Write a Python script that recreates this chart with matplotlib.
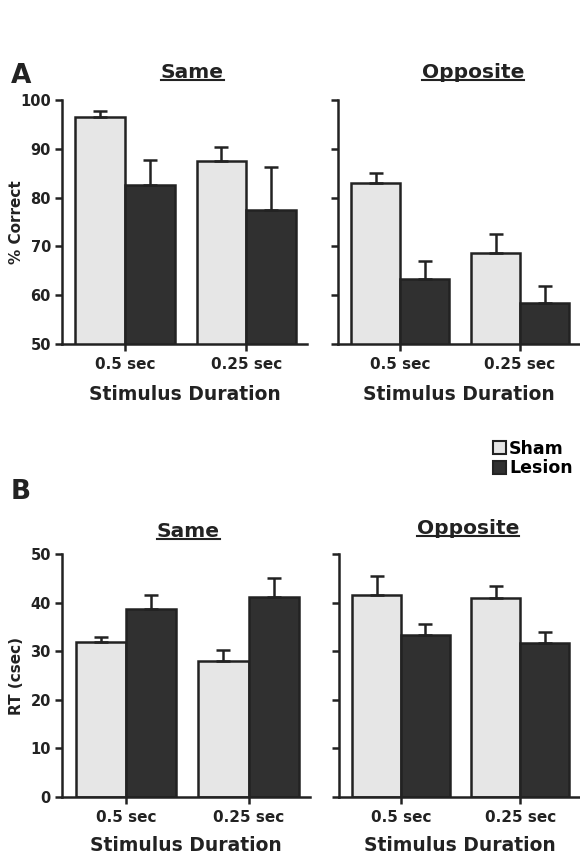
import matplotlib
matplotlib.use("Agg")
import matplotlib.pyplot as plt
from matplotlib.patches import Patch
from matplotlib.lines import Line2D

plt.rcParams['font.family'] = ['DejaVu Sans']
plt.rcParams['font.weight'] = 'bold'

# data
durations = ["0.5 sec", "0.25 sec"]

acc_same_sham = [96.6, 87.4]
acc_same_sham_err = [1.2, 3.0]
acc_same_lesion = [82.5, 77.5]
acc_same_lesion_err = [5.3, 8.7]
acc_opp_sham = [82.9, 68.7]
acc_opp_sham_err = [2.2, 3.9]
acc_opp_lesion = [63.3, 58.3]
acc_opp_lesion_err = [3.7, 3.6]

rt_same_sham = [31.9, 28.0]
rt_same_sham_err = [1.0, 2.2]
rt_same_lesion = [38.6, 41.2]
rt_same_lesion_err = [3.0, 3.9]
rt_opp_sham = [41.5, 41.0]
rt_opp_sham_err = [4.0, 2.4]
rt_opp_lesion = [33.3, 31.7]
rt_opp_lesion_err = [2.2, 2.2]

SHAM = '#e6e6e6'
LESION = '#303030'
INK = '#222222'
W, H = 580, 855

fig = plt.figure(figsize=(5.8, 8.55), dpi=100)


def px_axes(left, right, top, bottom):
    return fig.add_axes([left / W, 1 - bottom / H, (right - left) / W, (bottom - top) / H])


def draw_panel(ax, sham, sham_err, lesion, lesion_err, ylim, yticks, show_labels, xlabelpad):
    x = range(len(durations))
    w = 0.41
    ek = dict(ecolor=INK, elinewidth=1.8, capsize=5, capthick=1.8)
    ax.bar([i - w / 2 for i in x], sham, w, color=SHAM, edgecolor=INK, linewidth=1.8,
           yerr=[[0] * len(sham), sham_err], error_kw=ek, zorder=2)
    ax.bar([i + w / 2 for i in x], lesion, w, color=LESION, edgecolor=INK, linewidth=1.8,
           yerr=[[0] * len(lesion), lesion_err], error_kw=ek, zorder=2)
    ax.set_xlim(-0.52, 1.5)
    ax.set_ylim(*ylim)
    ax.set_yticks(yticks)
    if not show_labels:
        ax.set_yticklabels([])
    ax.set_xticks(list(x))
    ax.set_xticklabels(durations)
    for s in ['top', 'right']:
        ax.spines[s].set_visible(False)
    for s in ['left', 'bottom']:
        ax.spines[s].set_linewidth(1.8)
        ax.spines[s].set_color(INK)
    ax.tick_params(axis='both', width=1.8, length=5, color=INK, labelsize=10.5, labelcolor=INK)
    ax.tick_params(axis='y', pad=3)
    ax.tick_params(axis='x', pad=4, labelsize=11)
    for t in ax.get_xticklabels() + ax.get_yticklabels():
        t.set_fontweight('bold')
    ax.set_xlabel("Stimulus Duration", fontsize=13.5, fontweight='bold', color=INK,
                  labelpad=xlabelpad)


ax1 = px_axes(62, 307, 100, 344)
draw_panel(ax1, acc_same_sham, acc_same_sham_err, acc_same_lesion, acc_same_lesion_err,
           (50, 100), [50, 60, 70, 80, 90, 100], True, 10)
ax1.set_ylabel("% Correct", fontsize=11, fontweight='bold', color=INK)
ax1.yaxis.set_label_coords(-0.155, 0.5)

ax2 = px_axes(338, 580, 100, 344)
draw_panel(ax2, acc_opp_sham, acc_opp_sham_err, acc_opp_lesion, acc_opp_lesion_err,
           (50, 100), [50, 60, 70, 80, 90, 100], False, 10)

ax3 = px_axes(62, 310, 554, 797)
draw_panel(ax3, rt_same_sham, rt_same_sham_err, rt_same_lesion, rt_same_lesion_err,
           (0, 50), [0, 10, 20, 30, 40, 50], True, 8)
ax3.set_ylabel("RT (csec)", fontsize=11, fontweight='bold', color=INK)
ax3.yaxis.set_label_coords(-0.153, 0.5)

ax4 = px_axes(339, 580, 554, 797)
draw_panel(ax4, rt_opp_sham, rt_opp_sham_err, rt_opp_lesion, rt_opp_lesion_err,
           (0, 50), [0, 10, 20, 30, 40, 50], False, 8)

# panel letters
fig.text(11 / W, 1 - 76 / H, "A", fontsize=19, fontweight='bold', color=INK, va='center')
fig.text(11 / W, 1 - 492 / H, "B", fontsize=19, fontweight='bold', color=INK, va='center')

# underlined titles
titles = [("Same", 192, 73), ("Opposite", 473, 73), ("Same", 188, 531), ("Opposite", 468, 528)]
title_texts = []
for label, cx, cy in titles:
    t = fig.text(cx / W, 1 - cy / H, label, fontsize=14.5, fontweight='bold', color=INK,
                 ha='center', va='center')
    title_texts.append(t)

fig.canvas.draw()
renderer = fig.canvas.get_renderer()
for t in title_texts:
    bb = t.get_window_extent(renderer)
    y = (bb.y0 + 2) / H
    fig.add_artist(Line2D([bb.x0 / W, bb.x1 / W], [y, y], color=INK, linewidth=1.5,
                          transform=fig.transFigure))

# legend
handles = [Patch(facecolor=SHAM, edgecolor=INK, linewidth=1.5, label="Sham"),
           Patch(facecolor=LESION, edgecolor=INK, linewidth=1.5, label="Lesion")]
fig.legend(handles=handles, loc='upper left', bbox_to_anchor=(484 / W, 1 - 431 / H),
           frameon=False, handlelength=0.75, handleheight=0.75,
           handletextpad=0.2, labelspacing=0.1, borderpad=0, prop={'weight': 'bold', 'size': 12.5})

fig.savefig("out.png", dpi=100)
